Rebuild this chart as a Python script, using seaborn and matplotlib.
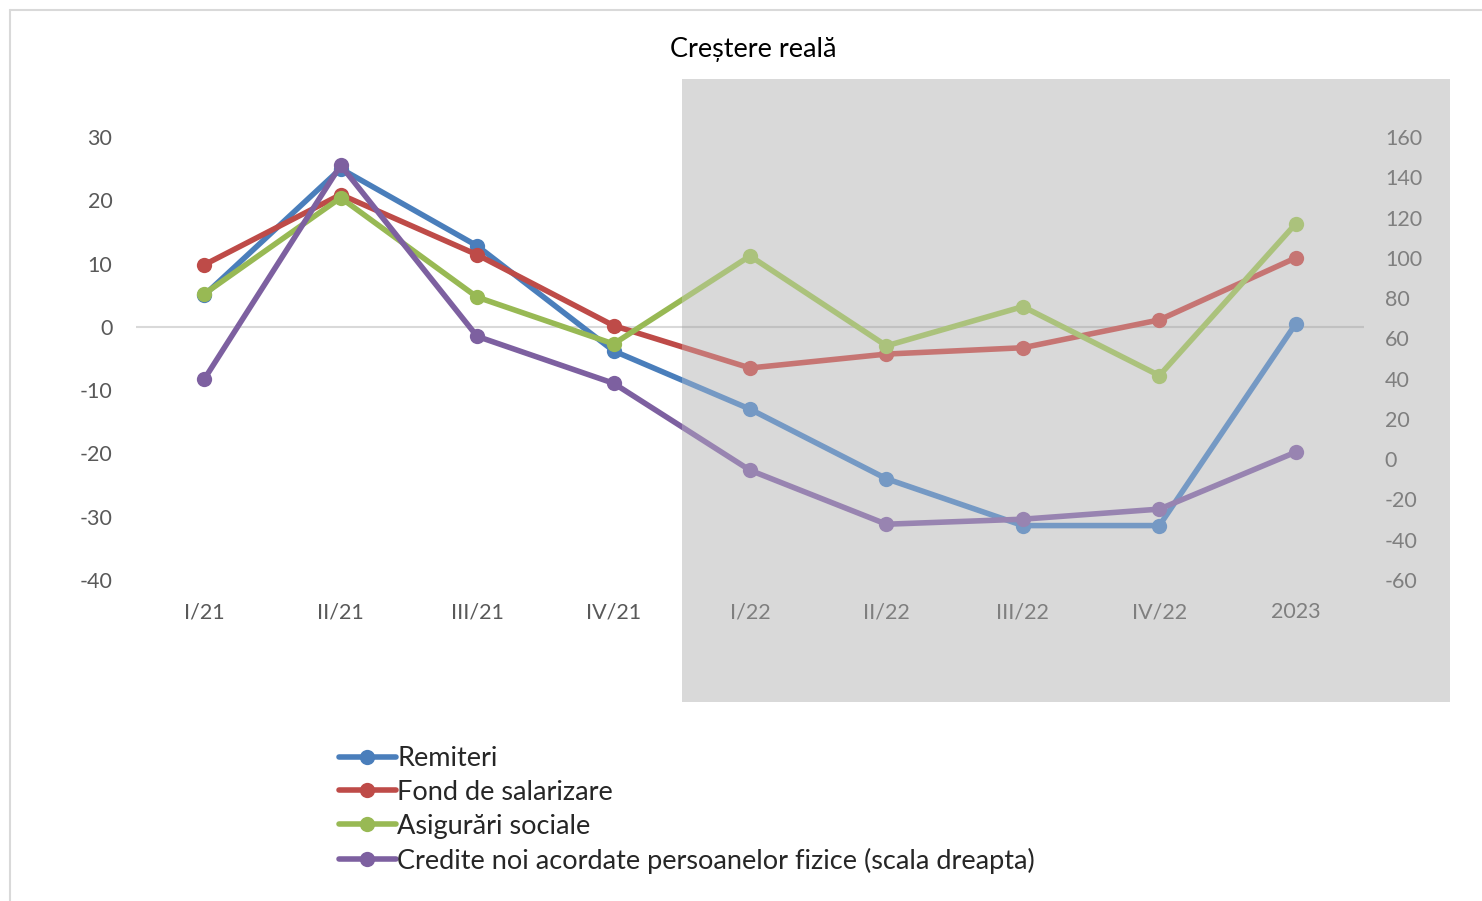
import numpy as np
import pandas as pd
import seaborn as sns
import matplotlib.pyplot as plt
from matplotlib.patches import Rectangle
from matplotlib.lines import Line2D

# data
trimestre = ['I/21', 'II/21', 'III/21', 'IV/21', 'I/22', 'II/22', 'III/22', 'IV/22', '2023']
remiteri = [5.0, 25.0, 12.8, -3.8, -13.0, -24.0, -31.4, -31.4, 0.5]
fond_salarizare = [9.8, 20.9, 11.4, 0.2, -6.5, -4.3, -3.3, 1.1, 10.9]
asigurari_sociale = [5.2, 20.4, 4.7, -2.7, 11.2, -3.0, 3.2, -7.7, 16.3]
credite_noi = [39.7, 146.0, 61.0, 37.7, -5.5, -32.3, -29.8, -24.8, 3.5]

left_ticks = [30, 20, 10, 0, -10, -20, -30, -40]
right_ticks = [160, 140, 120, 100, 80, 60, 40, 20, 0, -20, -40, -60]

sns.set_theme(style='white')
plt.rcParams['font.family'] = ['Lato', 'DejaVu Sans']
plt.rcParams['axes.unicode_minus'] = False

W, H = 1482, 901
fig = plt.figure(figsize=(W / 100, H / 100), dpi=100)

def fx(px):
    return px / W

def fy(py):
    return 1 - py / H

ax = fig.add_axes([fx(136), fy(580), fx(1364) - fx(136), fy(137) - fy(580)])
ax.set_facecolor('none')

lw = 4.0
ms = 11
series = [
    ('Remiteri', remiteri, '#4a7ebb'),
    ('Fond de salarizare', fond_salarizare, '#be4b48'),
    ('Asigurări sociale', asigurari_sociale, '#98b954'),
]
for name, vals, col in series:
    df = pd.DataFrame({'x': trimestre, 'y': vals})
    sns.lineplot(data=df, x='x', y='y', ax=ax, color=col, marker='o', markersize=ms,
                 markeredgewidth=0, linewidth=lw, sort=False, zorder=3)

ax.axhline(0, color='black', alpha=0.15, linewidth=1.5, zorder=1)
ax.set_xlim(-0.5, 8.5)
ax.set_ylim(-40, 30)
ax.set_yticks(left_ticks)
ax.set_xlabel('')
ax.set_ylabel('')
for s in ax.spines.values():
    s.set_visible(False)
ax.tick_params(axis='both', length=0, labelsize=15.5, labelcolor='#595959')
ax.tick_params(axis='y', pad=17)
ax.tick_params(axis='x', pad=16)

ax2 = ax.twinx()
df = pd.DataFrame({'x': trimestre, 'y': credite_noi})
sns.lineplot(data=df, x='x', y='y', ax=ax2, color='#7d60a0', marker='o', markersize=ms,
             markeredgewidth=0, linewidth=lw, sort=False, zorder=3)
ax2.set_ylim(-60, 160)
ax2.set_yticks(right_ticks)
ax2.set_ylabel('')
for s in ax2.spines.values():
    s.set_visible(False)
ax2.tick_params(axis='y', length=0, labelsize=15.5, labelcolor='#595959', pad=15)

# gray shaded region: full gray behind, light gray veil on top
fig.patches.append(Rectangle((fx(682), fy(702)), fx(1450) - fx(682), fy(79) - fy(702),
                             transform=fig.transFigure, facecolor='#d9d9d9',
                             edgecolor='none', zorder=-1))
fig.patches.append(Rectangle((fx(682), fy(702)), fx(1450) - fx(682), fy(79) - fy(702),
                             transform=fig.transFigure, facecolor='#d9d9d9',
                             edgecolor='none', alpha=0.3, zorder=5))

# chart border (top and left visible)
fig.lines.append(Line2D([fx(10), fx(10)], [fy(10), 0], transform=fig.transFigure,
                        color='#d9d9d9', linewidth=1.5))
fig.lines.append(Line2D([fx(10), 1], [fy(10), fy(10)], transform=fig.transFigure,
                        color='#d9d9d9', linewidth=1.5))

fig.text(fx(753), fy(50), 'Creștere reală', ha='center', va='center', fontsize=19.5, color='black')

handles = [Line2D([], [], color=c, marker='o', markersize=ms, markeredgewidth=0, linewidth=lw)
           for c in ['#4a7ebb', '#be4b48', '#98b954', '#7d60a0']]
labels = ['Remiteri', 'Fond de salarizare', 'Asigurări sociale',
          'Credite noi acordate persoanelor fizice (scala dreapta)']
fig.legend(handles, labels, loc='upper left', bbox_to_anchor=(fx(339), fy(746)),
           frameon=False, fontsize=19.5, handlelength=2.1, handletextpad=0.05,
           labelspacing=0.33, borderpad=0, borderaxespad=0, labelcolor='#262626')

fig.savefig('out.png', dpi=100)
